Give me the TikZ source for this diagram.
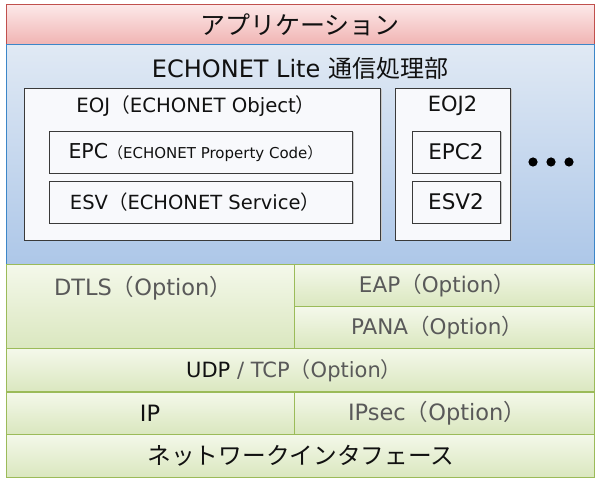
\documentclass[tikz,border=0pt]{standalone}
\usepackage{fontspec}
\setmainfont{DejaVu Sans}
\newfontfamily\jp{Noto Sans CJK JP}
\newcommand{\lp}{{\jp （}}
\newcommand{\rp}{{\jp ）}}
\definecolor{appB}{HTML}{C0504D}
\definecolor{appT}{HTML}{FCE8E8}
\definecolor{appBot}{HTML}{F0B3B2}
\definecolor{bluB}{HTML}{3C86C8}
\definecolor{bluT}{HTML}{E0E9F4}
\definecolor{bluBot}{HTML}{ADC7E8}
\definecolor{grnB}{HTML}{9BBB59}
\definecolor{grnT}{HTML}{F4F8EA}
\definecolor{grnBot}{HTML}{DAE7BF}
\definecolor{inB}{HTML}{3A3A3A}
\definecolor{inF}{HTML}{F8F9FC}
\definecolor{optC}{HTML}{595959}
\definecolor{txtC}{HTML}{111111}
\begin{document}
\begin{tikzpicture}[x=1pt,y=-1pt,
  every node/.style={inner sep=0pt,outer sep=0pt,text=txtC},
  appbox/.style={draw=appB,line width=1pt,top color=appT,bottom color=appBot},
  blubox/.style={draw=bluB,line width=1pt,top color=bluT,bottom color=bluBot},
  grnbox/.style={draw=grnB,line width=1pt,top color=grnT,bottom color=grnBot},
  inbox/.style={draw=inB,line width=0.9pt,fill=inF},
  shad/.style={fill=black!22},
  fs/.style={font=\fontsize{#1}{#1}\selectfont},
  opt/.style={text=optC}]
\useasboundingbox (0,0) rectangle (600,486);
\fill[white] (0,0) rectangle (600,486);
% application
\node[appbox,minimum width=588pt,minimum height=40pt] (app) at (300,25) {};
\node[fs=25] (appT) at (300,25) {\jp アプリケーション};
% ECHONET Lite
\node[blubox,minimum width=588pt,minimum height=220pt] (el) at (300,155) {};
\node[fs=24] (elT) at (300,68) {ECHONET Lite {\jp 通信処理部}};
% EOJ
\fill[shad] (25.5,89.5) rectangle (381.5,241.5);
\node[inbox,minimum width=356pt,minimum height=152pt] (eoj) at (202,164) {};
\node[fs=19.7] (eojT) at (196,106) {EOJ\lp ECHONET Object\rp};
\fill[shad] (50.5,132.5) rectangle (353.5,174.5);
\node[inbox,minimum width=303pt,minimum height=42pt] (epc) at (200.5,152) {};
\node (epcT) at (195.5,152) {\fontsize{20.5}{20.5}\selectfont EPC\fontsize{15}{15}\selectfont\lp ECHONET Property Code\rp};
\fill[shad] (50.5,182.5) rectangle (353.5,224.5);
\node[inbox,minimum width=303pt,minimum height=42pt] (esv) at (200.5,202) {};
\node[fs=19.5] (esvT) at (195,202) {ESV\lp ECHONET Service\rp};
% EOJ2
\fill[shad] (396.5,89.5) rectangle (511.5,241.5);
\node[inbox,minimum width=115pt,minimum height=152pt] (eoj2) at (452.5,164) {};
\node[fs=21] (eoj2T) at (452.5,106) {EOJ2};
\fill[shad] (413.5,132.5) rectangle (501.5,174.5);
\node[inbox,minimum width=88pt,minimum height=42pt] (epc2) at (456,152) {};
\node[fs=21.5] (epc2T) at (456,152) {EPC2};
\fill[shad] (413.5,182.5) rectangle (501.5,224.5);
\node[inbox,minimum width=88pt,minimum height=42pt] (esv2) at (456,202) {};
\node[fs=21.5] (esv2T) at (456,202) {ESV2};
\fill[black] (533,162) circle (4.6) (551,162) circle (4.6) (569,162) circle (4.6);
% lower layers
\node[grnbox,minimum width=288pt,minimum height=84pt] (dtls) at (150,307) {};
\node[fs=22.5,opt] (dtlsT) at (143,288) {DTLS\lp Option\rp};
\node[grnbox,minimum width=300pt,minimum height=42pt] (eap) at (444,286) {};
\node[fs=21.5,opt] (eapT) at (437,286) {EAP\lp Option\rp};
\node[grnbox,minimum width=300pt,minimum height=42pt] (pana) at (444,328) {};
\node[fs=21.5,opt] (panaT) at (437,328) {PANA\lp Option\rp};
\node[grnbox,minimum width=588pt,minimum height=43pt] (udp) at (300,370.5) {};
\node[fs=21] (udpT) at (294,370.5) {UDP \textcolor{optC}{/ TCP\lp Option\rp}};
\node[grnbox,minimum width=288pt,minimum height=42pt] (ip) at (150,413) {};
\node[fs=22.5] (ipT) at (150,413) {IP};
\node[grnbox,minimum width=300pt,minimum height=42pt] (ipsec) at (444,413) {};
\node[fs=22.5,opt] (ipsecT) at (437,413) {IPsec\lp Option\rp};
\node[grnbox,minimum width=588pt,minimum height=43pt] (net) at (300,455.5) {};
\node[fs=23.7] (netT) at (301,455.5) {\jp ネットワークインタフェース};
\end{tikzpicture}
\end{document}
